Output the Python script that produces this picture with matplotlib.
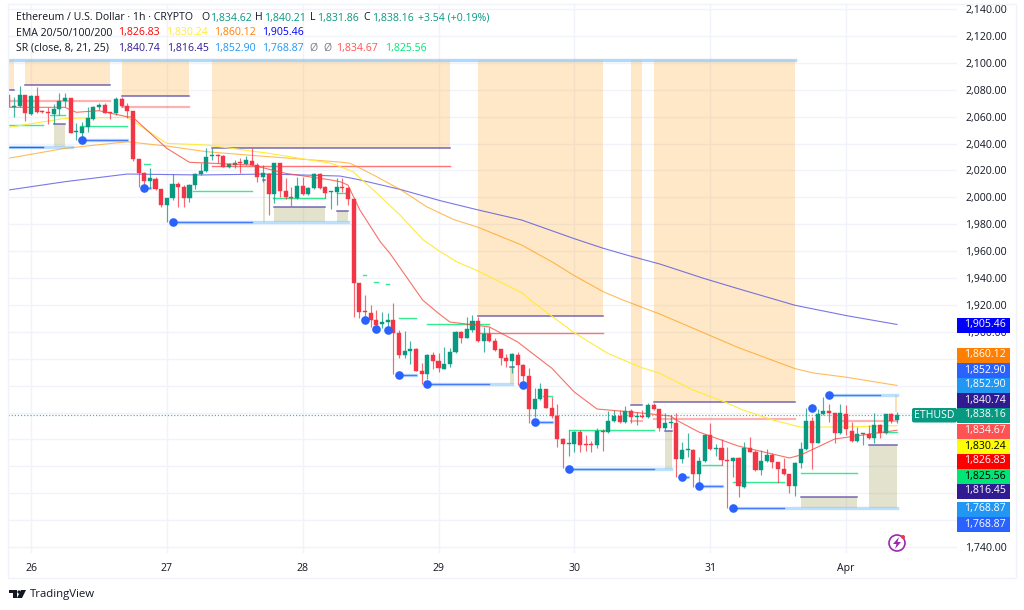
#!/usr/bin/env python3
"""ETH/USD hourly chart with EMAs and support / resistance zones."""

import matplotlib
matplotlib.use("Agg")
import matplotlib.pyplot as plt
import matplotlib.patches as patches
import numpy as np

plt.rcParams["font.family"] = ["Open Sans", "DejaVu Sans"]

# candles, hours since Mar 26 00:00 (first one is -4)
first_hour = -4
opens = [
    2076.1,2066.9,2067.9,2076.1,2062.0,2075.3,2064.2,2063.4,2062.0,2065.7,
    2071.6,2073.6,2048.8,2048.1,2052.5,2058.5,2066.9,2068.9,2063.7,2062.4,
    2072.9,2067.9,2064.2,2028.2,2017.8,2012.4,2013.9,2005.9,1994.3,1999.5,
    2009.9,2007.9,1999.5,2008.9,2017.3,2019.8,2030.7,2031.7,2030.7,2022.3,
    2024.0,2026.3,2024.8,2027.3,2024.3,2015.4,2017.3,2002.5,2025.3,2005.0,
    2000.5,1999.5,2008.4,2002.5,2006.7,2017.3,2007.4,2003.7,2003.7,2007.7,
    2006.7,1998.8,1936.5,1915.7,1914.2,1908.8,1905.8,1907.5,1908.8,1899.4,
    1882.8,1885.7,1887.0,1871.1,1868.6,1883.0,1878.3,1872.6,1875.8,1884.7,
    1900.1,1895.6,1901.3,1908.3,1893.4,1898.4,1893.4,1887.0,1880.5,1878.3,
    1882.8,1875.6,1867.1,1842.9,1849.8,1857.2,1843.6,1837.4,1820.6,1816.4,
    1816.6,1825.8,1816.8,1816.6,1815.9,1826.3,1825.3,1833.5,1837.7,1833.2,
    1841.4,1836.9,1837.7,1836.4,1845.6,1842.4,1828.2,1832.5,1832.4,1805.2,
    1811.9,1812.1,1794.3,1803.7,1823.3,1812.9,1813.4,1804.7,1803.9,1806.2,
    1784.9,1813.4,1810.9,1797.3,1803.9,1808.4,1803.0,1797.8,1794.0,1785.4,
    1802.5,1812.6,1833.4,1817.6,1838.9,1841.4,1839.4,1824.5,1838.9,1826.5,
    1818.8,1823.8,1824.0,1820.8,1830.7,1824.5,1838.6,1834.62,
]
highs = [
    2078.0,2074.8,2082.8,2076.1,2076.1,2082.3,2064.9,2067.4,2069.4,2077.3,
    2077.8,2073.6,2055.0,2056.2,2067.4,2067.9,2070.4,2069.9,2063.7,2074.8,
    2074.8,2069.9,2064.2,2028.2,2019.1,2021.6,2015.4,2005.9,1999.3,2017.3,
    2011.6,2008.9,2009.7,2017.8,2025.3,2036.4,2036.4,2032.2,2031.2,2025.8,
    2027.8,2029.0,2030.7,2036.4,2025.3,2024.0,2018.3,2025.8,2025.8,2014.1,
    2007.4,2014.9,2014.9,2007.9,2018.3,2018.3,2008.4,2005.0,2014.1,2014.6,
    2007.9,1998.8,1936.5,1927.4,1919.9,1916.2,1915.0,1914.2,1921.2,1901.3,
    1900.9,1893.4,1887.7,1877.1,1883.5,1885.2,1884.0,1888.5,1887.7,1900.6,
    1900.6,1911.3,1912.5,1911.3,1903.8,1903.8,1895.1,1887.5,1883.5,1884.5,
    1885.2,1876.1,1872.9,1858.0,1861.7,1857.7,1851.8,1846.3,1821.1,1827.0,
    1826.3,1827.0,1823.3,1819.1,1828.2,1827.5,1841.4,1841.9,1841.9,1844.8,
    1842.4,1840.6,1841.9,1847.3,1846.8,1842.9,1839.4,1838.2,1839.4,1818.3,
    1824.5,1812.6,1806.7,1824.0,1832.0,1816.6,1820.1,1814.6,1806.7,1806.7,
    1818.3,1821.5,1812.1,1812.1,1812.6,1809.7,1803.5,1805.9,1794.5,1803.0,
    1818.3,1843.1,1836.4,1842.4,1851.8,1846.3,1839.9,1846.3,1845.6,1833.2,
    1829.0,1824.5,1830.7,1839.9,1831.2,1839.1,1839.9,1840.21,
]
lows = [
    2065.0,2060.0,2067.4,2057.0,2061.2,2062.4,2062.4,2054.5,2054.5,2061.2,
    2067.4,2047.6,2042.6,2042.6,2048.8,2057.5,2064.9,2062.4,2058.0,2061.2,
    2067.4,2058.7,2027.3,2007.4,2006.7,2006.7,2005.4,1992.6,1981.9,1998.0,
    1993.1,1993.1,1996.8,2005.9,2016.6,2019.1,2027.8,2025.3,2022.3,2021.8,
    2021.6,2018.3,2024.3,2024.0,2011.6,2011.6,1986.9,1996.0,2000.5,1999.0,
    1993.6,1998.5,2001.7,2001.7,2005.9,2005.9,1999.3,1991.1,1994.3,2004.2,
    1994.3,1910.8,1910.5,1907.5,1903.3,1902.6,1902.6,1902.6,1868.6,1880.3,
    1880.3,1876.1,1870.6,1861.2,1864.7,1872.1,1870.4,1872.6,1874.1,1884.2,
    1892.0,1895.1,1900.1,1892.7,1885.2,1892.7,1886.0,1875.3,1874.1,1869.1,
    1860.5,1862.9,1832.0,1836.9,1849.3,1843.4,1835.7,1814.6,1798.5,1807.7,
    1810.9,1810.9,1811.6,1810.9,1813.4,1811.6,1824.5,1833.2,1832.5,1832.5,
    1832.5,1830.7,1835.7,1835.7,1841.9,1826.5,1827.0,1828.7,1792.3,1802.7,
    1807.2,1784.9,1787.3,1803.2,1812.1,1807.7,1801.0,1768.8,1792.3,1776.9,
    1783.6,1810.4,1796.8,1793.5,1803.5,1798.5,1787.8,1793.5,1780.4,1777.9,
    1798.5,1812.1,1797.8,1817.1,1838.1,1833.2,1817.1,1824.0,1823.3,1818.3,
    1818.3,1815.8,1820.1,1817.6,1820.8,1824.0,1832.5,1831.86,
]
closes = [
    2067.4,2067.9,2076.1,2062.4,2075.3,2063.7,2063.2,2062.4,2065.7,2071.6,
    2073.6,2048.1,2049.6,2052.5,2059.0,2066.9,2068.9,2062.9,2062.4,2072.9,
    2067.9,2064.4,2028.2,2017.8,2012.4,2014.1,2005.9,1994.3,1999.3,2009.9,
    2007.9,1999.5,2009.2,2017.3,2019.8,2030.2,2031.5,2031.0,2022.8,2024.8,
    2025.8,2025.5,2027.8,2024.3,2015.4,2017.8,2002.5,2025.3,2005.0,2000.0,
    1999.8,2008.4,2002.5,2006.7,2017.3,2006.7,2003.0,2005.0,2007.4,2006.7,
    1998.8,1936.5,1915.0,1914.7,1908.8,1905.1,1907.5,1908.8,1899.4,1882.8,
    1885.7,1887.0,1871.1,1868.6,1883.0,1878.3,1872.9,1875.8,1884.7,1900.1,
    1895.6,1901.8,1908.3,1893.4,1898.4,1893.4,1886.5,1880.8,1878.6,1883.5,
    1875.3,1867.1,1842.9,1849.8,1857.2,1843.6,1837.4,1820.6,1816.6,1817.3,
    1825.8,1815.9,1815.9,1815.6,1826.5,1825.5,1833.5,1837.7,1833.2,1841.4,
    1836.4,1837.7,1836.4,1845.6,1842.4,1828.2,1832.0,1833.2,1805.2,1812.1,
    1812.6,1794.3,1803.7,1823.3,1812.6,1813.6,1804.7,1803.9,1806.2,1785.4,
    1813.4,1810.9,1797.3,1803.9,1808.4,1803.2,1797.8,1794.0,1785.4,1802.5,
    1812.6,1833.4,1817.6,1838.9,1841.4,1839.4,1824.5,1839.4,1827.5,1818.8,
    1824.0,1824.5,1820.8,1830.7,1825.0,1838.6,1833.7,1838.16,
]

# moving averages, read at the bends of each curve
ema20_h = [-4,1,6,8,12,17,18,24,28,32,39,45,53,54.6,56,58.1,61.7,63.4,69.2,72,74,81,86,88.2,92,96,100,106,113,114,118,125,134,136,142,153]
ema20_p = [2066.9,2066.9,2066.9,2063.2,2064.4,2059.9,2059.5,2036.4,2026.0,2025.3,2024.0,2017.8,2012.9,2011.6,2009.1,1990.6,1967.0,1958.4,
           1923.6,1913.7,1907.3,1903.6,1892.4,1885.2,1873.0,1855.2,1842.6,1840.4,1837.4,1834.4,1825.5,1815.0,1806.2,1808.4,1820.3,1826.83]
ema50_h = [-4,6,17,24,31,42,53,54.6,56.9,60.5,65.2,69.3,72.3,75.2,79,86.7,88.2,95.8,101.8,107.6,111.1,117,122.9,125.8,131.1,135.9,143.5,153]
ema50_p = [2052.0,2058.7,2059.5,2040.1,2038.9,2032.7,2025.3,2022.8,2019.0,2005.4,1986.8,1968.3,1959.6,1952.1,1945.2,1929.1,1923.6,1899.8,
           1884.2,1873.8,1869.1,1856.7,1847.3,1841.8,1834.4,1829.2,1829.2,1830.24]
ema100_h = [-4,6,17,24,31,42,54.6,56.4,60.5,65.2,69.9,74.6,79,86.7,92.3,95.8,101.1,104.6,111.1,117,125,135,138.2,144.1,153]
ema100_p = [2029.0,2036.4,2041.3,2038.1,2033.9,2030.2,2026.2,2025.3,2016.6,2005.9,1993.0,1983.6,1977.7,1964.5,1951.4,1942.2,1929.8,1923.6,
            1913.2,1902.6,1888.2,1872.6,1869.4,1866.2,1860.12]
ema200_h = [-4,6,17,30,42,54.6,57.6,65.2,72.3,79,86.7,95.8,101.1,105.8,111.1,118.8,125.3,135,144.1,153]
ema200_p = [2005.4,2011.6,2017.3,2016.6,2017.3,2015.8,2013.4,2005.9,1997.5,1990.6,1983.1,1969.5,1962.1,1956.4,1950.4,1939.8,1931.6,1919.7,1912.0,1905.46]

# resistance zones
zone_top = 2102.0
zone_start = [-4.1,-1,16,32,79,106,110]
zone_end = [-3,14,28,74,101,108,135]
zone_bottom = [2079.5,2083.3,2075.3,2037.0,1912.0,1845.6,1847.8]

# supply boxes
box_start = [4,41,43,54,84.7,112,136,148]
box_end = [6,41.4,52,56,85.3,113.2,146,153]
box_top = [2054.3,2012.9,1993.0,1990.0,1874.0,1826.5,1777.4,1815.8]
box_bottom = [2037.4,1981.4,1981.4,1981.4,1861.4,1798.2,1768.87,1768.87]

# pale red levels
red_start = [-4,16,32,79,106,110,142]
red_end = [14,28,74,101,108,135,153]
red_level = [2071.8,2067.4,2023.3,1899.3,1833.7,1835.2,1833.9]
red_pale = [True,True,False,False,True,True,True]

# green levels
green_start = [-4,3.4,8.7,20,28.7,42.8,54,58.7,60.6,62.7,65,70,90.5,95,118.6,124,136,150.5]
green_end = [2.2,6,17,21,39,52,56,59.2,61.3,63.3,68,81,92,110,122,133,146,153]
green_level = [2053.5,2061.2,2053.0,2024.8,2004.9,1999.5,2003.0,1941.9,1936.8,1935.5,1910.2,1905.6,1852.2,1827.0,1801.0,1788.3,1795.2,1825.3]

# support levels: dot, strong part, faded part
sup_start = [9,20,25,65,70,89,95,115,118,124,141]
sup_mid = [17,21,39,68,81,92,110,116,122,133,150]
sup_end = [17,21,56,68,85,92,113,116,122,153,153]
sup_level = [2042.6,2007.1,1981.4,1868.0,1861.4,1832.9,1798.2,1792.3,1785.1,1768.87,1852.9]
dot_hours = [59,61,63,87,138]
dot_levels = [1909.0,1902.3,1901.4,1860.7,1843.0]

price_ticks = list(range(1900, 2141, 20)) + [1740]
grid_only_ticks = list(range(1760, 1900, 20))
day_hours = [0,24,48,72,96,120,144]
day_labels = ["26","27","28","29","30","31","Apr"]

tag_prices = ["1,905.46","1,860.12","1,852.90","1,852.90","1,840.74","1,838.16","1,834.67",
              "1,830.24","1,826.83","1,825.56","1,816.45","1,768.87","1,768.87"]
tag_colors = ["#0000ff","#ff7f00","#2962ff","#2196f3","#311b92","#089981","#ff5252",
              "#ffff00","#ff0000","#00e676","#311b92","#2196f3","#2962ff"]
tag_text = ["white","white","white","white","white","white","white",
            "black","white","black","white","white","white"]
tag_y = [325,355,370,385,400,415,431,446,461,476,491,509,524]

UP = "#089981"
DOWN = "#f23645"
GRID = "#f0f3fa"
TEXT = "#131722"
FONT = 7.6
W, H = 1024, 610


def px_x(p):
    return (p - 31) / 5.66


def px_price(p):
    return 2140 - (p - 9) / 1.345


def draw_candles(ax):
    hours = np.arange(first_hour, first_hour + len(opens))
    o, h, l, c = map(np.array, (opens, highs, lows, closes))
    colors = [UP if b >= a else DOWN for a, b in zip(o, c)]
    ax.vlines(hours, l, h, colors=colors, linewidth=0.85, alpha=0.75, zorder=5)
    ax.bar(hours, np.abs(c - o), bottom=np.minimum(o, c), width=0.72, color=colors,
           linewidth=0.3, edgecolor=colors, zorder=6)


def draw_levels(ax):
    for s, e, b in zip(zone_start, zone_end, zone_bottom):
        ax.add_patch(patches.Rectangle((s, b), e - s, zone_top - b, facecolor="#ff9800",
                                       alpha=0.22, linewidth=0, zorder=1))
        ax.plot([s, e], [b, b], color="#5e4fa8", linewidth=1.1, alpha=0.85, zorder=2)
    ax.plot([-4.1, 135], [zone_top, zone_top], color="#90caf9", linewidth=2.4, alpha=0.7, zorder=2)

    for s, e, t, b in zip(box_start, box_end, box_top, box_bottom):
        ax.add_patch(patches.Rectangle((s, b), e - s, t - b, facecolor="#8f8f3a",
                                       alpha=0.25, linewidth=0, zorder=1))
        ax.plot([s, e], [t, t], color="#5e4fa8", linewidth=1.1, alpha=0.85, zorder=2)
    ax.add_patch(patches.Rectangle((152.7, 1840.74), 0.3, 12.16, facecolor="#ff9800",
                                   alpha=0.3, linewidth=0, zorder=1))

    for s, e, v, pale in zip(red_start, red_end, red_level, red_pale):
        ax.plot([s, e], [v, v], color="#ff5252", linewidth=1.6 if pale else 1.0,
                alpha=0.45 if pale else 0.8, zorder=3)
    for s, e, v in zip(green_start, green_end, green_level):
        ax.plot([s, e], [v, v], color="#00e676", linewidth=1.0, alpha=0.8, zorder=3)

    # long supports fade once a candle closes through them
    ax.plot([-4.1, 7.2], [2037.4, 2037.4], color="#90caf9", linewidth=2.4, alpha=0.6, zorder=3)
    ax.plot([-4.1, 2.2], [2037.4, 2037.4], color="#2962ff", linewidth=1.0, zorder=3)
    for s, m, e, v in zip(sup_start, sup_mid, sup_end, sup_level):
        ax.plot([s, e], [v, v], color="#90caf9", linewidth=2.4, alpha=0.6, zorder=3)
        ax.plot([s, m], [v, v], color="#2962ff", linewidth=1.0, alpha=0.8, zorder=3)
        ax.plot([s], [v], "o", color="#2962ff", markersize=6.2, markeredgewidth=0, zorder=7)
    ax.plot(dot_hours, dot_levels, "o", color="#2962ff", markersize=6.2, markeredgewidth=0, zorder=7)


def draw_overlay(fig):
    ov = fig.add_axes([0, 0, 1, 1], facecolor="none")
    ov.set_xlim(0, W)
    ov.set_ylim(H, 0)
    ov.axis("off")

    # frame
    ov.plot([8, 8, 1016, 1016, 8], [4, 578, 578, 4, 4], color=GRID, linewidth=1)

    def txt(x, y, s, color=TEXT, size=FONT, **kw):
        ov.text(x, y, s, color=color, fontsize=size, va="center", ha="left", **kw)

    txt(16, 18, "Ethereum / U.S. Dollar · 1h · CRYPTO")
    for x, s in zip([201, 255, 310, 363], "OHLC"):
        txt(x, 18, s)
    for x, s in zip([210, 264, 317, 372, 418],
                    ["1,834.62", "1,840.21", "1,831.86", "1,838.16", "+3.54 (+0.19%)"]):
        txt(x, 18, s, color=UP)
    txt(16, 33, "EMA 20/50/100/200")
    for x, s, c in zip([118, 166, 214, 262], ["1,826.83", "1,830.24", "1,860.12", "1,905.46"],
                       ["#ff0000", "#ffeb3b", "#ff7f00", "#0000ff"]):
        txt(x, 33, s, color=c)
    txt(16, 48, "SR (close, 8, 21, 25)")
    for x, s, c in zip([118, 167, 214, 262, 309, 323, 336, 385],
                       ["1,840.74", "1,816.45", "1,852.90", "1,768.87", "Ø", "Ø", "1,834.67", "1,825.56"],
                       ["#311b92", "#311b92", "#2196f3", "#2196f3", "#787b86", "#787b86", "#ff5252", "#00e676"]):
        txt(x, 48, s, color=c)

    # price tags on the scale
    for y, s, c, tc in zip(tag_y, tag_prices, tag_colors, tag_text):
        ov.add_patch(patches.Rectangle((957, y - 7.5), 53, 15, facecolor=c, linewidth=0, zorder=4))
        ov.text(985, y, s, color=tc, fontsize=FONT, ha="center", va="center", zorder=5)
    ov.add_patch(patches.FancyBboxPatch((912, 408), 45, 14.5, boxstyle="round,pad=0,rounding_size=2",
                                        facecolor=UP, linewidth=0, zorder=4))
    ov.text(934.5, 415, "ETHUSD", color="white", fontsize=FONT, ha="center", va="center", zorder=5)

    # bolt badge
    ov.add_patch(patches.Circle((897, 543), 8, facecolor="white", edgecolor="#9c27b0", linewidth=1.2, zorder=8))
    ov.add_patch(patches.Polygon([(899, 537), (893, 544), (896.5, 544), (895, 549), (901, 542), (897.5, 542)],
                                 facecolor="#9c27b0", linewidth=0, zorder=9))
    ov.add_patch(patches.Circle((903, 537), 2, facecolor="#f23645", linewidth=0, zorder=9))

    # TradingView logo
    ov.add_patch(patches.Polygon([(9, 590), (17, 590), (17, 598), (13, 598), (13, 593), (9, 593)],
                                 facecolor="#131722", linewidth=0))
    ov.add_patch(patches.Circle((19, 592), 1.6, facecolor="#131722", linewidth=0))
    ov.add_patch(patches.Polygon([(21, 590), (26, 590), (22, 598), (17, 598)], facecolor="#131722", linewidth=0))
    txt(30, 594, "TradingView", size=8.2)


def main():
    fig = plt.figure(figsize=(W / 100, H / 100), dpi=100)
    ax = fig.add_axes([8 / W, 1 - 553 / H, (957 - 8) / W, (553 - 4) / H])
    ax.set_xlim(px_x(8), px_x(957))
    ax.set_ylim(px_price(553), px_price(4))

    ax.set_yticks(price_ticks)
    ax.set_yticklabels([f"{v:,.2f}" for v in price_ticks], fontsize=FONT, color=TEXT)
    ax.set_yticks(grid_only_ticks, minor=True)
    ax.yaxis.tick_right()
    ax.set_xticks(day_hours)
    ax.set_xticklabels(day_labels, fontsize=FONT, color=TEXT)
    ax.tick_params(which="both", length=0, pad=7)
    ax.tick_params(axis="y", pad=6)
    ax.grid(True, which="both", color=GRID, linewidth=1)
    ax.set_axisbelow(True)
    for s in ax.spines.values():
        s.set_visible(False)

    draw_levels(ax)
    ax.plot(ema200_h, ema200_p, color="#3f3fe0", linewidth=0.8, alpha=0.7, zorder=4)
    ax.plot(ema100_h, ema100_p, color="#ff9800", linewidth=0.8, alpha=0.65, zorder=4)
    ax.plot(ema50_h, ema50_p, color="#ffeb3b", linewidth=0.8, zorder=4)
    ax.plot(ema20_h, ema20_p, color="#f44336", linewidth=0.8, alpha=0.75, zorder=7)
    draw_candles(ax)
    ax.axhline(closes[-1], color=UP, linewidth=0.9, linestyle=(0, (1, 1.5)), alpha=0.7, zorder=3)

    draw_overlay(fig)
    fig.savefig("out.png", dpi=100, facecolor="white")
    plt.close(fig)


if __name__ == "__main__":
    main()
